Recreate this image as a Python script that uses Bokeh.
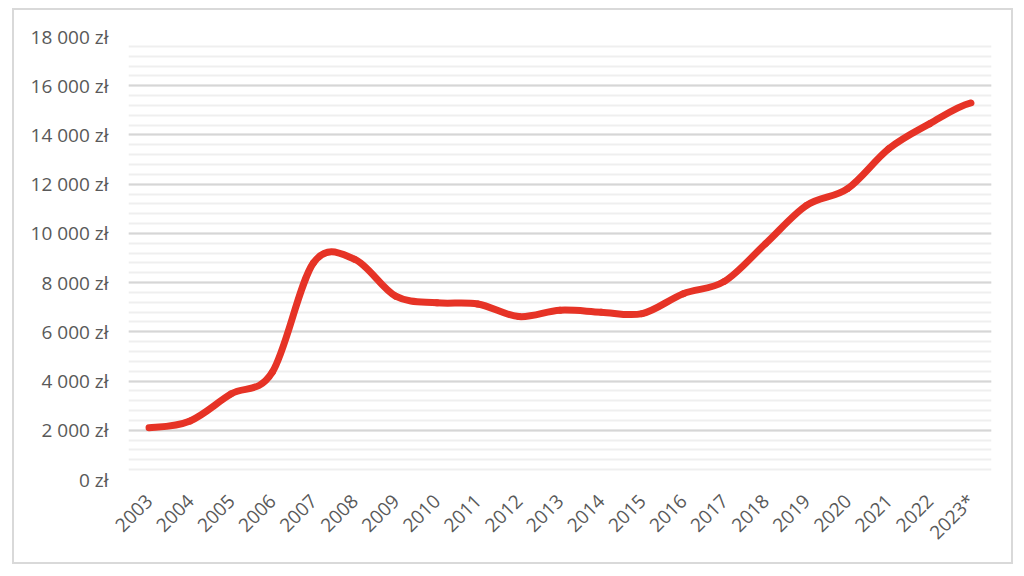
import numpy as np
from bokeh.plotting import figure
from bokeh.models import Range1d, FixedTicker, ColumnDataSource
from bokeh.embed import file_html
from bokeh.resources import INLINE
from math import pi

years = ["2003", "2004", "2005", "2006", "2007", "2008", "2009", "2010", "2011", "2012",
         "2013", "2014", "2015", "2016", "2017", "2018", "2019", "2020", "2021", "2022", "2023*"]
values = [2100, 2380, 3480, 4360, 8800, 8950, 7450, 7180, 7130, 6620,
          6880, 6800, 6740, 7550, 8050, 9580, 11140, 11820, 13440, 14460, 15300]
y_ticks = [0, 2000, 4000, 6000, 8000, 10000, 12000, 14000, 16000, 18000]

FONT = "Open Sans"
TXT = "#595959"

p = figure(width=1001, height=556, output_backend="svg", toolbar_location=None,
           x_range=Range1d(-0.5, len(years) - 0.5), y_range=Range1d(0, 18000),
           min_border_left=114, min_border_right=24, min_border_top=26, min_border_bottom=87)
p.margin = (8, 0, 0, 12)
p.styles = {"border": "2px solid #d9d9d9"}
p.outline_line_color = None
p.background_fill_color = "white"
p.border_fill_color = "white"

# smoothed line via Bezier segments (Excel-like smoothing)
x = np.arange(len(values), dtype=float)
y = np.array(values, dtype=float)
yp = np.concatenate([[y[0]], y, [y[-1]]])
x0 = x[:-1]
x1 = x[1:]
y0 = y[:-1]
y1 = y[1:]
cy0 = yp[1:-2] + (yp[2:-1] - yp[0:-3]) / 6.0
cy1 = yp[2:-1] - (yp[3:] - yp[1:-2]) / 6.0
cx0 = x0 + 1.0 / 3.0
cx1 = x1 - 1.0 / 3.0
src = ColumnDataSource(dict(x0=x0, y0=y0, x1=x1, y1=y1, cx0=cx0, cy0=cy0, cx1=cx1, cy1=cy1))
p.bezier(x0="x0", y0="y0", x1="x1", y1="y1", cx0="cx0", cy0="cy0", cx1="cx1", cy1="cy1",
         source=src, line_color="#e63326", line_width=7, line_cap="round")

# axes
p.xaxis.ticker = FixedTicker(ticks=list(range(len(years))))
p.xaxis.major_label_overrides = {i: s for i, s in enumerate(years)}
p.xaxis.major_label_orientation = pi / 4
p.yaxis.ticker = FixedTicker(ticks=y_ticks, minor_ticks=list(range(0, 18001, 400)))
p.yaxis.major_label_overrides = {v: (f"{v:,}".replace(",", " ") + " zł") for v in y_ticks}
for ax in (p.xaxis[0], p.yaxis[0]):
    ax.axis_line_color = None
    ax.major_tick_line_color = None
    ax.minor_tick_line_color = None
    ax.major_label_text_font = FONT
    ax.major_label_text_font_size = "19px"
    ax.major_label_text_color = TXT
p.yaxis.major_label_standoff = 14
p.xaxis.major_label_standoff = 12

p.xgrid.grid_line_color = None
p.ygrid.grid_line_color = "#d6d6d6"
p.ygrid.grid_line_width = 1.8
p.ygrid.minor_grid_line_color = "#efefef"
p.ygrid.minor_grid_line_width = 1.8

open("out.html", "w").write(file_html(p, INLINE))
